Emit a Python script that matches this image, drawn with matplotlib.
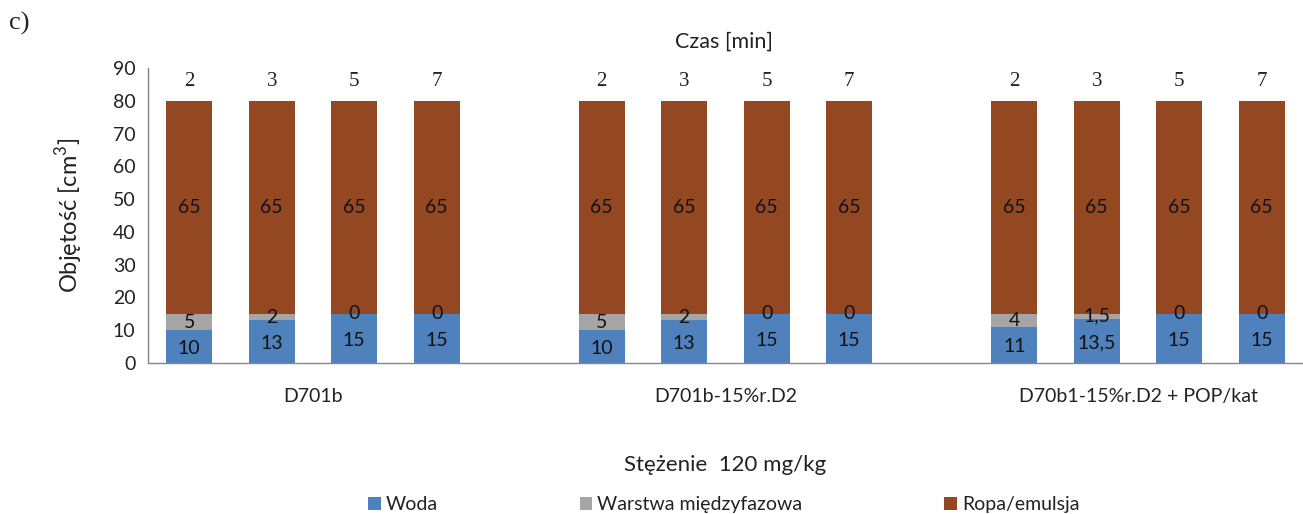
import matplotlib
matplotlib.use("Agg")
import matplotlib.pyplot as plt
import numpy as np

plt.rcParams['font.family'] = ['Lato', 'DejaVu Sans']
plt.rcParams['mathtext.fontset'] = 'custom'
plt.rcParams['mathtext.rm'] = 'Lato'

groups = ['D701b', 'D701b-15%r.D2', 'D70b1-15%r.D2 + POP/kat']
times = ['2', '3', '5', '7']
woda = [10, 13, 15, 15, 10, 13, 15, 15, 11, 13.5, 15, 15]
warstwa = [5, 2, 0, 0, 5, 2, 0, 0, 4, 1.5, 0, 0]
ropa = [65, 65, 65, 65, 65, 65, 65, 65, 65, 65, 65, 65]

def fmt(v):
    s = ('%g' % v)
    return s.replace('.', ',')

c_woda = '#4F81BD'
c_war = '#A5A5A5'
c_ropa = '#934822'

fig = plt.figure(figsize=(13.03, 5.14), dpi=100)
ax = fig.add_axes([0.1136, 0.2938, 0.8864, 0.5739])

pos = []
for g in range(len(groups)):
    for t in range(len(times)):
        pos.append(g * 5 + t)
pos = np.array(pos, dtype=float)
w = 0.56

woda_a = np.array(woda, dtype=float)
war_a = np.array(warstwa, dtype=float)
ropa_a = np.array(ropa, dtype=float)

b1 = ax.bar(pos, woda_a, w, color=c_woda, label='Woda')
b2 = ax.bar(pos, war_a, w, bottom=woda_a, color=c_war, label='Warstwa międzyfazowa')
b3 = ax.bar(pos, ropa_a, w, bottom=woda_a + war_a, color=c_ropa, label='Ropa/emulsja')

fs = 14
for i, x in enumerate(pos):
    ax.text(x, woda_a[i] / 2 - 0.5, fmt(woda_a[i]), ha='center', va='center', fontsize=fs, color='#111')
    ax.text(x, woda_a[i] + war_a[i] / 2, fmt(war_a[i]), ha='center', va='center', fontsize=fs, color='#111')
    ax.text(x, woda_a[i] + war_a[i] + ropa_a[i] / 2, fmt(ropa_a[i]), ha='center', va='center', fontsize=fs, color='#111')
    ax.text(x, 85.8, times[i % 4], ha='center', va='center', fontsize=15,
            family=['Liberation Serif', 'DejaVu Serif'], color='#222')

ax.set_xlim(-0.5, 13.5)
ax.set_ylim(0, 90)
ax.set_yticks(np.arange(0, 91, 10))
ax.set_xticks([1.5, 6.5, 11.5])
ax.set_xticklabels(groups)
ax.tick_params(axis='both', length=0, labelsize=fs, colors='#222')
ax.tick_params(axis='x', pad=18)
ax.tick_params(axis='y', pad=9)
for s in ['top', 'right']:
    ax.spines[s].set_visible(False)
for s in ['left', 'bottom']:
    ax.spines[s].set_color('#868686')
    ax.spines[s].set_linewidth(1.0)

ax.set_ylabel('Objętość [cm$^3$]', fontsize=17, color='#222', labelpad=20)
ax.set_xlabel('Stężenie  120 mg/kg', fontsize=16, color='#222', labelpad=36)
fig.text(0.5555, 0.918, 'Czas [min]', ha='center', va='center', fontsize=15.5, color='#222')
fig.text(0.007, 0.955, 'c)', ha='left', va='center', fontsize=19,
         family=['Liberation Serif', 'DejaVu Serif'], color='#222')

leg = fig.legend(handles=[b1, b2, b3], loc='center', bbox_to_anchor=(0.5555, 0.018), ncol=3,
                 frameon=False, fontsize=fs, handlelength=0.65, handleheight=0.65,
                 handletextpad=0.25, columnspacing=7.3, borderaxespad=0)
for t in leg.get_texts():
    t.set_color('#222')

fig.savefig('out.png', dpi=100)
